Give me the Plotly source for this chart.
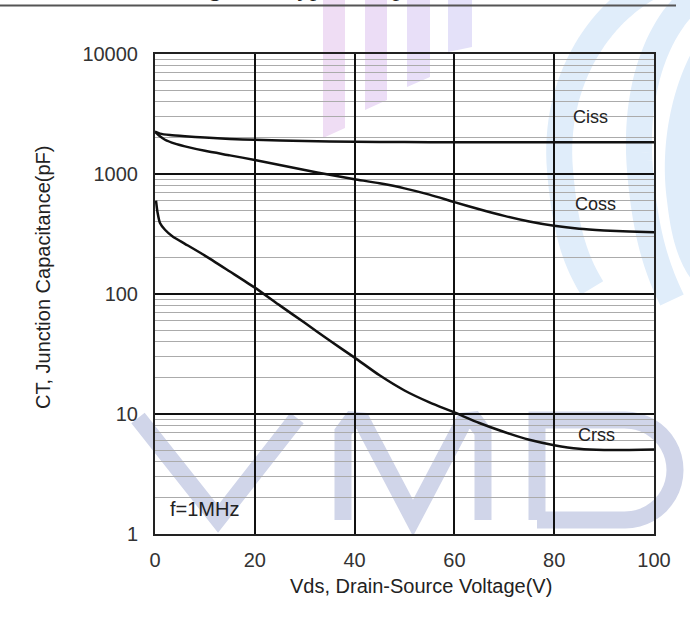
import numpy as np
import plotly.graph_objects as go

# ---------------- data ----------------
vds_ciss = [0, 1, 3, 6, 10, 15, 20, 30, 40, 50, 60, 70, 80, 90, 100]
ciss = [2250, 2170, 2110, 2060, 2010, 1960, 1925, 1880, 1860, 1845, 1840, 1840, 1840, 1840, 1840]

vds_coss = [0, 1, 2, 4, 6, 10, 15, 20, 25, 30, 35, 40, 45, 50, 55, 60, 65, 70, 75, 80, 85, 90, 95, 100]
coss = [2250, 2060, 1930, 1790, 1700, 1560, 1430, 1310, 1190, 1080, 985, 905, 836, 759, 673, 583,
        508, 448, 402, 370, 350, 339, 332, 327]

vds_crss = [0.2, 0.5, 1, 2, 3.6, 6, 10, 15, 20, 25, 30, 35, 40, 45, 50, 55, 60, 65, 70, 75, 80,
            85, 90, 95, 100]
crss = [600, 480, 391, 343, 300, 262, 209, 154, 113, 80.4, 57.5, 40.9, 29.5, 21.0, 15.7, 12.5,
        10.3, 8.41, 7.08, 6.10, 5.50, 5.13, 5.01, 5.01, 5.05]

series_names = ["Ciss", "Coss", "Crss"]
label_x = [87.2, 88.2, 88.4]
label_y = [2985, 562, 6.68]

x_ticks = [0, 20, 40, 60, 80, 100]
y_ticks = [1, 10, 100, 1000, 10000]
y_ticktext = ["1", "10", "100", "1000", "10000"]

x_title = "Vds, Drain-Source Voltage(V)"
y_title = "CT, Junction Capacitance(pF)"
note_text = "f=1MHz"
page_title = "Figure 7. Typical Capacitance"

# ---------------- geometry helpers ----------------
W, H = 690, 628
L, R, T, B = 155, 654, 54, 534


def px(x):
    return (x - L) / (R - L)


def py(y):
    return (B - y) / (B - T)


def path_from(points, close=False):
    s = "M " + " L ".join(f"{px(x):.5f},{py(y):.5f}" for x, y in points)
    return s + (" Z" if close else "")


def bez(p0, c1, c2, p1, n=30):
    t = np.linspace(0, 1, n)[:, None]
    P = ((1 - t) ** 3) * np.array(p0) + 3 * ((1 - t) ** 2) * t * np.array(c1) \
        + 3 * (1 - t) * t ** 2 * np.array(c2) + t ** 3 * np.array(p1)
    return [tuple(p) for p in P]


FONT = "Liberation Sans, Arial, sans-serif"

fig = go.Figure()
for xs, ys in [(vds_ciss, ciss), (vds_coss, coss), (vds_crss, crss)]:
    fig.add_trace(go.Scatter(x=xs, y=ys, mode="lines",
                             line=dict(color="#111111", width=2.5, shape="spline", smoothing=0.6),
                             showlegend=False, hoverinfo="skip"))

shapes = []
# watermark: pink bars
bars = [(323, 345, 138, 128, "rgb(239,221,244)"), (365, 387, 110, 100, "rgb(236,221,246)"),
        (407, 430, 87, 77, "rgb(232,223,248)"), (448, 472, 52, 47, "rgb(228,225,249)")]
for xl, xr, bl, br, col in bars:
    shapes.append(dict(type="path", xref="paper", yref="paper", layer="below",
                       path=path_from([(xl, -5), (xr, -5), (xr, br), (xl, bl)], close=True),
                       fillcolor=col, line=dict(width=0)))
# watermark: blue arcs
blue = "rgb(224,237,250)"
arcs = [
    bez((648, -12), (592, 20), (553, 90), (560, 170)) + bez((560, 170), (565, 230), (575, 260), (592, 288))[1:],
    bez((700, -8), (660, 20), (633, 85), (640, 170)) + bez((640, 170), (645, 230), (655, 265), (672, 300))[1:],
    bez((705, 55), (683, 95), (673, 150), (680, 200)) + bez((680, 200), (684, 235), (690, 255), (702, 272))[1:],
]
for a in arcs:
    shapes.append(dict(type="path", xref="paper", yref="paper", layer="below",
                       path=path_from(a), line=dict(color=blue, width=26)))
# watermark: VMD letters
gray = "rgb(208,213,233)"
V = [(138, 418), (218, 519), (297, 418)]
M = [(343, 520), (343, 432), (352, 420), (362, 421), (413, 518), (464, 421), (474, 420), (483, 432), (483, 520)]
D = [(537, 520), (537, 420), (625, 420)] + \
    [(625 + 50 * np.cos(a), 470 - 50 * np.sin(a)) for a in np.linspace(np.pi / 2, -np.pi / 2, 25)] + \
    [(537, 520)]
for poly in (V, M, D):
    shapes.append(dict(type="path", xref="paper", yref="paper", layer="below",
                       path=path_from(poly), line=dict(color=gray, width=17)))
# separator line at the top of the page
shapes.append(dict(type="line", xref="paper", yref="paper", layer="above",
                   x0=px(0), x1=px(676), y0=py(5.5), y1=py(5.5),
                   line=dict(color="#555555", width=2)))

annotations = []
for name, lx, ly in zip(series_names, label_x, label_y):
    annotations.append(dict(x=lx, y=np.log10(ly), xref="x", yref="y", text=name, showarrow=False,
                            xanchor="center", yanchor="middle",
                            font=dict(family=FONT, size=18, color="#222222")))
annotations.append(dict(x=10.0, y=np.log10(1.616), xref="x", yref="y", text=note_text, showarrow=False,
                        xanchor="center", yanchor="middle",
                        font=dict(family=FONT, size=20, color="#222222")))
annotations.append(dict(x=px(421), y=py(586), xref="paper", yref="paper", text=x_title, showarrow=False,
                        xanchor="center", yanchor="middle",
                        font=dict(family=FONT, size=20, color="#222222")))
annotations.append(dict(x=px(43), y=py(278), xref="paper", yref="paper", text=y_title, showarrow=False,
                        xanchor="center", yanchor="middle",
                        textangle=-90, font=dict(family=FONT, size=20, color="#222222")))
annotations.append(dict(x=px(185.5), y=py(3.5), xref="paper", yref="paper", text=page_title,
                        showarrow=False, xanchor="left", yanchor="bottom",
                        font=dict(family="Liberation Serif, Times New Roman, serif", size=25, color="#222222")))

minor_vals = [m * 10 ** d for d in range(0, 4) for m in range(2, 10)]

fig.update_layout(
    width=W, height=H, autosize=False,
    margin=dict(l=L, r=W - R, t=T, b=H - B, pad=0),
    paper_bgcolor="white", plot_bgcolor="rgba(0,0,0,0)",
    shapes=shapes, annotations=annotations,
    xaxis=dict(range=[0, 100], tickvals=x_ticks, showgrid=True, gridcolor="#111111", gridwidth=1.5,
               zeroline=False, showline=True, mirror=True, linecolor="#222222", linewidth=2,
               ticks="", ticklabelstandoff=7, tickfont=dict(family=FONT, size=20, color="#333333")),
    yaxis=dict(type="log", range=[0, 4], tickvals=y_ticks, ticktext=y_ticktext, showgrid=True,
               gridcolor="#111111", gridwidth=1.5, zeroline=False, showline=True, mirror=True,
               linecolor="#222222", linewidth=2, ticks="", ticklabelstandoff=11,
               tickfont=dict(family=FONT, size=20, color="#333333"),
               minor=dict(tickvals=minor_vals, showgrid=True, gridcolor="#ababab", gridwidth=1.2, ticks="")),
)

fig.write_html("out.html")
